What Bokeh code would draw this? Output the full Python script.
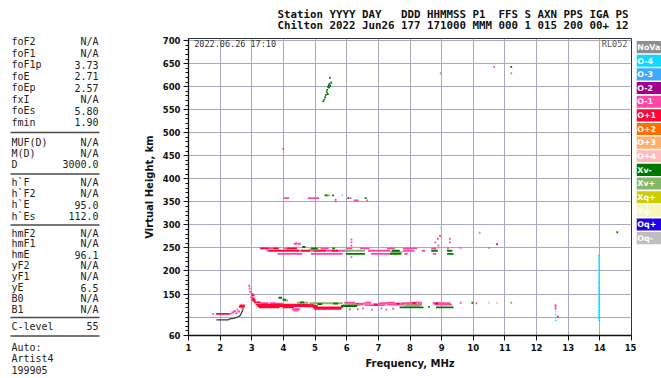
from bokeh.plotting import figure
from bokeh.layouts import row, column
from bokeh.models import Range1d, FixedTicker, ColumnDataSource
from bokeh.core.properties import value
from bokeh.embed import file_html
from bokeh.resources import INLINE

# ---------------- data ----------------
FREQ_TICKS = list(range(1, 16))
HEIGHT_TICKS = [60, 150, 200, 250, 300, 350, 400, 450, 500, 550, 600, 650, 700]
HEIGHT_GRID = [100, 150, 200, 250, 300, 350, 400, 450, 500, 550, 600, 650, 700]
HEIGHT_MINOR = list(range(60, 701, 10))
FREQ_GRID = list(range(2, 15))

TITLE_LINES = ["Station YYYY DAY   DDD HHMMSS P1  FFS S AXN PPS IGA PS",
               "Chilton 2022 Jun26 177 171000 MMM 000 1 015 200 00+ 12"]
STAMP = "2022.06.26 17:10"
STATION_CODE = "RL052"

params_freq = [("foF2", "N/A"), ("foF1", "N/A"), ("foF1p", "3.73"), ("foE", "2.71"),
               ("foEp", "2.57"), ("fxI", "N/A"), ("foEs", "5.80"), ("fmin", "1.90")]
params_muf = [("MUF(D)", "N/A"), ("M(D)", "N/A"), ("D", "3000.0")]
params_hgt = [("h`F", "N/A"), ("h`F2", "N/A"), ("h`E", "95.0"), ("h`Es", "112.0")]
params_prof = [("hmF2", "N/A"), ("hmF1", "N/A"), ("hmE", "96.1"), ("yF2", "N/A"),
               ("yF1", "N/A"), ("yE", "6.5"), ("B0", "N/A"), ("B1", "N/A")]
params_clev = [("C-level", "55")]
params_auto = [("Auto:", ""), ("Artist4", ""), ("199905", "")]

LEGEND_LABELS = ["NoVa", "O-4", "O-3", "O-2", "O-1", "O+1", "O+2", "O+3", "O+4",
                 "Xv-", "Xv+", "Xq+", "Xq-", "Oq+", "Oq-"]
LEGEND_COLORS = ["#8e8e8e", "#12d8ff", "#3eaaff", "#a4008c", "#ff46a6", "#ff0636",
                 "#ff6e00", "#ffb06c", "#ffbaba", "#007800", "#84b866", "#cccc00",
                 "#f6f6bc", "#2400e6", "#bebebe"]

# autoscaled E trace (black line)
trace_freq = [1.88, 2.26, 2.30, 2.42, 2.50, 2.58, 2.64, 2.68, 2.72]
trace_height = [94, 94, 96, 97, 99, 101, 104, 110, 116]

# echo runs: (start MHz, end MHz, virtual height km)
runs_om1 = [  # O-1 pink
    (1.78, 1.78, 107), (2.28, 2.33, 107),
    (2.38, 2.42, 110), (2.45, 2.48, 113), (2.50, 2.52, 108), (2.55, 2.55, 116),
    (2.58, 2.60, 112), (2.70, 2.72, 118),
    (2.92, 2.92, 168), (2.93, 2.93, 162), (2.95, 2.97, 155), (3.00, 3.02, 150),
    (2.98, 3.00, 143), (3.02, 3.05, 141), (3.00, 3.03, 137),
    (3.30, 3.50, 130), (3.60, 3.75, 130), (3.80, 3.95, 129),
    (3.55, 3.62, 125), (3.85, 3.95, 125), (4.10, 4.25, 125), (4.70, 4.85, 123),
    (4.30, 4.50, 117), (4.35, 4.45, 114),
    (5.95, 6.25, 131), (6.35, 6.55, 129), (6.60, 6.75, 131), (6.85, 7.00, 128),
    (7.05, 7.25, 130), (7.30, 7.50, 131), (7.55, 7.70, 129), (7.75, 8.00, 130),
    (8.05, 8.35, 131),
    (6.05, 6.50, 127), (6.60, 7.20, 126), (7.30, 7.80, 127), (7.90, 8.35, 127),
    (6.10, 6.10, 117), (6.35, 6.35, 117), (6.52, 6.52, 119), (6.80, 6.80, 116),
    (7.10, 7.10, 119), (7.25, 7.25, 116), (7.47, 7.47, 118),
    (8.75, 9.25, 130), (8.80, 9.30, 127),
    (9.60, 9.60, 131), (10.10, 10.10, 130),
    (12.60, 12.60, 118), (12.60, 12.60, 122), (12.60, 12.60, 126),
    (3.28, 3.70, 249), (4.05, 4.15, 249), (5.20, 5.40, 249), (6.00, 6.15, 249),
    (6.45, 6.70, 249), (7.30, 7.50, 249), (7.80, 8.20, 249), (8.70, 8.80, 249),
    (9.20, 9.20, 249),
    (3.50, 3.58, 244), (4.45, 4.60, 244), (4.80, 5.00, 244), (5.30, 5.55, 244),
    (5.70, 6.05, 244), (6.70, 7.35, 244), (7.80, 8.10, 244), (8.40, 8.45, 244),
    (3.84, 4.57, 237), (4.90, 5.85, 237), (6.80, 7.40, 237), (7.85, 7.90, 237),
    (8.75, 8.80, 237),
    (4.35, 4.42, 259), (4.48, 4.52, 259),
    (6.15, 6.15, 230), (6.15, 6.15, 255), (6.15, 6.15, 262), (6.15, 6.15, 268),
    (8.80, 8.80, 262), (8.88, 8.88, 270), (8.95, 8.95, 276), (8.90, 8.90, 255),
    (9.26, 9.26, 262), (9.26, 9.26, 270), (9.60, 9.60, 250), (10.50, 10.50, 250),
    (4.03, 4.15, 358), (4.80, 4.90, 358), (4.95, 5.10, 358), (5.65, 5.65, 355),
    (5.65, 5.65, 351), (6.25, 6.35, 353), (6.65, 6.65, 353), (6.12, 6.12, 358),
    (3.99, 3.99, 465), (10.66, 10.66, 643),
]
runs_op1 = [  # O+1 red
    (1.90, 2.25, 107), (2.62, 2.75, 122), (2.64, 2.75, 125),
    (3.02, 3.06, 147), (3.04, 3.08, 139), (3.05, 3.10, 135),
    (3.10, 3.25, 132), (3.15, 4.95, 127), (3.20, 5.05, 124), (3.25, 3.85, 121),
    (4.00, 4.30, 121), (4.95, 5.85, 121), (5.00, 5.80, 118),
    (6.30, 6.35, 128), (6.90, 6.95, 126), (7.60, 7.65, 129), (8.10, 8.15, 130),
    (8.82, 8.86, 130), (12.67, 12.67, 101),
    (3.30, 3.38, 249), (3.45, 3.50, 249), (3.72, 3.82, 249), (4.15, 4.40, 249),
    (3.58, 4.45, 244), (4.60, 4.80, 244), (5.00, 5.30, 244), (5.55, 5.70, 244),
    (10.75, 10.75, 258),
]
runs_om2 = [(11.20, 11.20, 643)]  # O-2 purple
runs_om4 = [  # O-4 cyan
    (12.60, 12.60, 93), (12.60, 12.60, 99), (12.60, 12.60, 105), (12.60, 12.60, 111),
    (13.97, 13.97, 93), (13.97, 13.97, 97), (13.97, 13.97, 101), (13.97, 13.97, 105),
    (13.97, 13.97, 110), (13.97, 13.97, 114), (13.97, 13.97, 118), (13.97, 13.97, 122),
    (13.97, 13.97, 127), (13.97, 13.97, 131), (13.97, 13.97, 135), (13.97, 13.97, 139),
    (13.97, 13.97, 144), (13.97, 13.97, 148), (13.97, 13.97, 152), (13.97, 13.97, 157),
    (13.97, 13.97, 161), (13.97, 13.97, 165), (13.97, 13.97, 170), (13.97, 13.97, 174),
    (13.97, 13.97, 178), (13.97, 13.97, 183), (13.97, 13.97, 187), (13.97, 13.97, 191),
    (13.97, 13.97, 196), (13.97, 13.97, 200), (13.97, 13.97, 204), (13.97, 13.97, 209),
    (13.97, 13.97, 213), (13.97, 13.97, 217), (13.97, 13.97, 222), (13.97, 13.97, 226),
    (13.97, 13.97, 230), (13.97, 13.97, 234),
]
runs_op4 = [(8.97, 8.97, 294), (10.50, 10.50, 131), (10.75, 10.75, 131),
            (4.40, 4.40, 262)]  # O+4 light pink
runs_xvm = [  # Xv- dark green
    (3.87, 3.93, 142), (4.00, 4.05, 138), (4.55, 4.62, 132), (5.10, 5.20, 128),
    (5.60, 5.70, 129), (5.85, 6.30, 124), (7.70, 8.40, 121), (8.60, 8.60, 122),
    (8.85, 9.35, 121), (9.97, 9.97, 131),
    (4.62, 4.67, 252), (4.90, 5.05, 249), (5.57, 5.60, 249), (6.00, 6.55, 237),
    (7.40, 7.70, 237), (7.45, 7.65, 244), (8.70, 8.85, 244), (9.20, 9.31, 244),
    (9.20, 9.35, 237),
    (5.33, 5.36, 364), (5.57, 5.57, 364), (6.05, 6.05, 358), (6.60, 6.60, 358),
    (14.55, 14.55, 284),
    (5.26, 5.26, 568), (5.29, 5.29, 572), (5.32, 5.32, 577), (5.34, 5.34, 582),
    (5.37, 5.37, 588), (5.40, 5.40, 584), (5.38, 5.38, 593), (5.41, 5.41, 599),
    (5.44, 5.44, 598), (5.43, 5.43, 603), (5.45, 5.45, 600), (5.46, 5.46, 606),
    (5.48, 5.48, 602), (5.51, 5.51, 609), (5.47, 5.47, 619),
]
runs_xvp = [  # Xv+ light green
    (4.05, 4.12, 136), (4.45, 4.75, 131), (4.85, 5.30, 130), (5.35, 5.85, 130),
    (5.90, 6.40, 126), (7.85, 8.30, 125), (11.20, 11.20, 131),
    (4.83, 5.10, 247), (5.94, 6.55, 244), (7.41, 7.73, 241),
    (5.38, 5.45, 364), (8.97, 8.97, 629), (11.20, 11.20, 629), (10.20, 10.20, 283),
]
runs_oqm = [(5.86, 5.86, 364)]  # Oq- grey

DOT_W = 0.055   # MHz added to each run's length
DOT_H = 4.0     # km

# ---------------- left parameter panel ----------------
W_LEFT, H_ALL = 140, 378
left = figure(width=W_LEFT, height=H_ALL, x_range=Range1d(0, W_LEFT), y_range=Range1d(H_ALL, 0),
              x_axis_type=None, y_axis_type=None, toolbar_location=None, output_backend="svg",
              min_border=0, outline_line_color=None, title=None)
left.grid.visible = False
groups = [params_freq, params_muf, params_hgt, params_prof, params_clev, params_auto]
group_top = [41.0, 141.5, 182.0, 232.5, 325.5, 347.0]
group_step = [11.5, 11.0, 11.2, 10.95, 11.0, 11.0]
sep_y = [132.0, 173.5, 224.5, 317.0, 335.5]
names, vals, ys = [], [], []
for items, y0, st in zip(groups, group_top, group_step):
    for k, (n, v) in enumerate(items):
        names.append(n); vals.append(v); ys.append(y0 + k * st)
left.text(x=[11] * len(names), y=ys, text=names, text_font=value("DejaVu Sans Mono"),
          text_font_size="10px", text_baseline="middle", text_align="left", text_color="#222222")
left.text(x=[98] * len(vals), y=ys, text=vals, text_font=value("DejaVu Sans Mono"),
          text_font_size="10px", text_baseline="middle", text_align="right", text_color="#222222")
left.segment(x0=[10] * len(sep_y), x1=[99] * len(sep_y), y0=sep_y, y1=sep_y,
             line_color="#4a4a4a", line_width=1.6)

# ---------------- title ----------------
W_TITLE, H_TITLE = 521, 34
ttl = figure(width=W_TITLE, height=H_TITLE, x_range=Range1d(0, W_TITLE), y_range=Range1d(H_TITLE, 0),
             x_axis_type=None, y_axis_type=None, toolbar_location=None, output_backend="svg",
             min_border=0, outline_line_color=None, title=None)
ttl.grid.visible = False
ttl.text(x=[137, 137], y=[13.5, 24.5], text=[t.replace(" ", "\u00a0") for t in TITLE_LINES],
         text_font=value("DejaVu Sans Mono"), text_font_size="10.8px", text_font_style="bold",
         text_baseline="middle", text_color="#111111")

# ---------------- main ionogram ----------------
H_MAIN = H_ALL - H_TITLE
p = figure(width=496, height=H_MAIN, x_range=Range1d(1, 15), y_range=Range1d(60, 704.5),
           toolbar_location=None, output_backend="svg", title=None,
           min_border_left=47, min_border_right=5, min_border_top=4, min_border_bottom=43)
p.outline_line_color = "#333333"
p.outline_line_width = 1
p.background_fill_color = "white"

p.xaxis.ticker = FixedTicker(ticks=FREQ_TICKS)
p.yaxis.ticker = FixedTicker(ticks=HEIGHT_TICKS, minor_ticks=HEIGHT_MINOR)
p.xgrid.ticker = FixedTicker(ticks=FREQ_GRID)
p.ygrid.ticker = FixedTicker(ticks=HEIGHT_GRID)
p.grid.grid_line_color = "#a6aabb"
p.grid.grid_line_width = 1

for ax in (p.xaxis, p.yaxis):
    ax.axis_line_color = "#111111"
    ax.axis_line_width = 1.3
    ax.major_tick_line_color = "#111111"
    ax.major_tick_out = 5
    ax.major_tick_in = 0
    ax.major_label_text_font = "DejaVu Sans"
    ax.major_label_text_font_style = "bold"
    ax.major_label_text_font_size = "8.5px"
    ax.major_label_text_color = "#111111"
    ax.major_label_standoff = 3
    ax.axis_label_text_font = "DejaVu Sans"
    ax.axis_label_text_font_style = "bold"
    ax.axis_label_text_font_size = "10px"
    ax.axis_label_text_color = "#111111"
p.xaxis.minor_tick_line_color = None
p.yaxis.minor_tick_line_color = "#111111"
p.yaxis.minor_tick_out = 3
p.yaxis.minor_tick_in = 0
p.xaxis.axis_label = "Frequency, MHz"
p.yaxis.axis_label = "Virtual Height, km"
p.xaxis.axis_label_standoff = 4
p.yaxis.axis_label_standoff = 5


def draw_runs(runs, color, dot_h=DOT_H):
    src = ColumnDataSource(dict(
        x=[(a + b) / 2 for a, b, h in runs],
        y=[h for a, b, h in runs],
        w=[(b - a) + DOT_W for a, b, h in runs]))
    p.rect(x="x", y="y", width="w", height=dot_h, source=src,
           fill_color=color, line_color=None)


col = dict(zip(LEGEND_LABELS, LEGEND_COLORS))
draw_runs(runs_om4, col["O-4"], dot_h=2.6)
draw_runs(runs_op4, col["O+4"])
draw_runs(runs_om1, col["O-1"])
draw_runs(runs_op1, col["O+1"])
draw_runs(runs_xvp, col["Xv+"])
draw_runs(runs_xvm, col["Xv-"])
draw_runs(runs_om2, col["O-2"])
draw_runs(runs_oqm, col["Oq-"])
p.line(trace_freq, trace_height, line_color="#3a3a3a", line_width=1.3)

p.text(x=[1.18], y=[691.5], text=[STAMP], text_font=value("DejaVu Sans Mono"),
       text_font_size="8.5px", text_baseline="middle", text_align="left", text_color="#333333")
p.text(x=[14.87], y=[691.5], text=[STATION_CODE], text_font=value("DejaVu Sans Mono"),
       text_font_size="8.5px", text_baseline="middle", text_align="right", text_color="#555555")

# ---------------- colour key ----------------
W_LEG = 25
leg = figure(width=W_LEG, height=H_MAIN, x_range=Range1d(0, W_LEG), y_range=Range1d(H_MAIN, 0),
             x_axis_type=None, y_axis_type=None, toolbar_location=None, output_backend="svg",
             min_border=0, outline_line_color=None, title=None)
leg.grid.visible = False
tops = [3 + 15.8 * i for i in range(len(LEGEND_LABELS))]
leg.quad(left=[0] * len(tops), right=[40] * len(tops), top=tops, bottom=[t + 14 for t in tops],
         fill_color=LEGEND_COLORS, line_color=None)
leg.text(x=[0.8] * len(tops), y=[t + 7.3 for t in tops], text=LEGEND_LABELS,
         text_font=value("DejaVu Sans"), text_font_style="bold", text_font_size="7.9px",
         text_baseline="middle", text_color="white")

layout = row(left, column(ttl, row(p, leg)))
open("out.html", "w").write(file_html(layout, INLINE))
